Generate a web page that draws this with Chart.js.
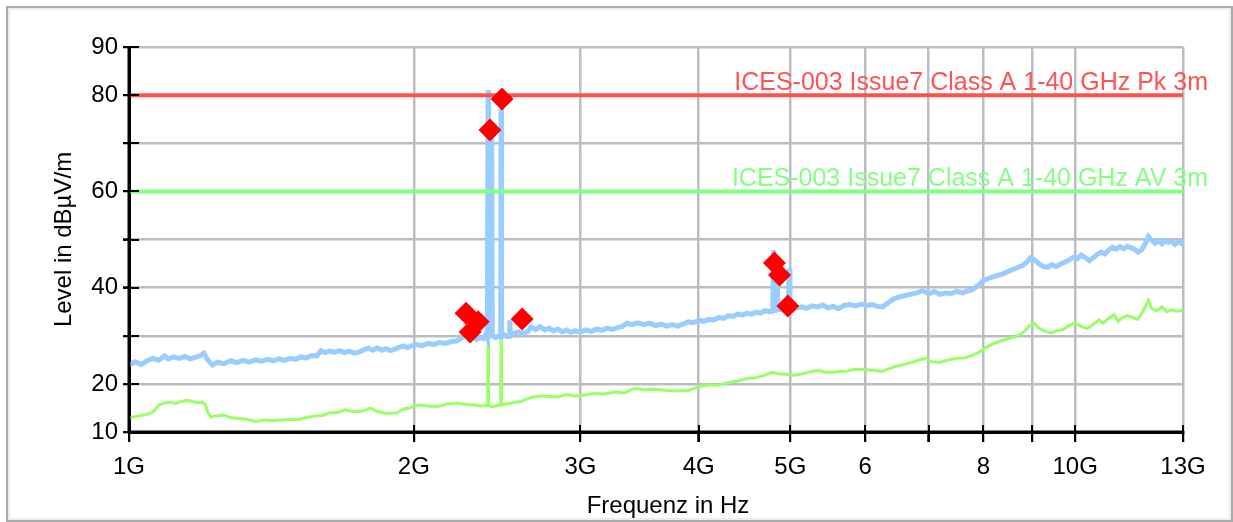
<!DOCTYPE html>
<html>
<head>
<meta charset="utf-8">
<script src="https://cdn.jsdelivr.net/npm/chart.js@4.4.1/dist/chart.umd.min.js"></script>
<style>
  html, body { margin: 0; padding: 0; background: #fff; }
  #wrap { position: relative; width: 1233px; height: 522px; overflow: hidden; }
  #frame { position: absolute; left: 6px; top: 6px; width: 1223px; height: 512px;
           border: 2px solid #ababab; box-shadow: inset 0 0 0 2px #ededed; }
  #chart { position: absolute; left: 0; top: 0; }
</style>
</head>
<body>
<div id="wrap">
  <div id="frame"></div>
  <canvas id="chart" width="1233" height="522"></canvas>
</div>
<script>
// Frequenz in GHz, Pegel in dBµV/m

// Peak-Messkurve (blau)
const peakFreq = [
  1.00, 1.015, 1.03, 1.045, 1.06, 1.075, 1.09, 1.10, 1.115, 1.13, 1.145, 1.16, 1.175, 1.19, 1.20, 1.21, 1.225,
  1.24, 1.26, 1.28, 1.30, 1.32, 1.34, 1.36, 1.38, 1.40, 1.42, 1.44, 1.46, 1.48, 1.50, 1.52, 1.54, 1.56, 1.58,
  1.595, 1.61, 1.63, 1.65, 1.67, 1.69, 1.71, 1.73, 1.75, 1.77, 1.79, 1.81, 1.83, 1.85, 1.87, 1.89, 1.91, 1.93,
  1.95, 1.97, 1.99, 2.01, 2.04, 2.07, 2.10, 2.13, 2.16, 2.19, 2.22, 2.25, 2.27, 2.29, 2.31, 2.33, 2.35, 2.37,
  2.385, 2.392, 2.394, 2.396, 2.399, 2.405, 2.412, 2.415, 2.417, 2.421, 2.44, 2.46, 2.471, 2.473, 2.476, 2.49,
  2.51, 2.523, 2.526, 2.53, 2.55, 2.58, 2.61, 2.64, 2.66, 2.69, 2.72, 2.75, 2.78, 2.81, 2.84, 2.87, 2.90, 2.93,
  2.96, 3.00, 3.04, 3.08, 3.12, 3.16, 3.20, 3.24, 3.28, 3.32, 3.36, 3.40, 3.45, 3.50, 3.55, 3.60, 3.65, 3.70,
  3.75, 3.80, 3.85, 3.90, 3.95, 4.00, 4.05, 4.10, 4.15, 4.20, 4.25, 4.30, 4.35, 4.40, 4.45, 4.50, 4.55, 4.60,
  4.65, 4.70, 4.75, 4.79, 4.80, 4.81, 4.83, 4.84, 4.85, 4.90, 4.95, 4.975, 4.985, 4.995, 5.02, 5.08, 5.14, 5.20,
  5.27, 5.34, 5.41, 5.48, 5.55, 5.62, 5.70, 5.78, 5.86, 5.94, 6.02, 6.10, 6.18, 6.26, 6.34, 6.42, 6.50, 6.60,
  6.70, 6.80, 6.90, 7.00, 7.10, 7.20, 7.30, 7.40, 7.50, 7.60, 7.70, 7.80, 7.90, 8.00, 8.10, 8.20, 8.30, 8.40,
  8.50, 8.60, 8.70, 8.80, 8.90, 8.97, 9.05, 9.15, 9.25, 9.35, 9.45, 9.55, 9.65, 9.75, 9.85, 9.95, 10.05, 10.15,
  10.25, 10.35, 10.45, 10.55, 10.65, 10.75, 10.85, 10.95, 11.05, 11.15, 11.25, 11.35, 11.45, 11.55, 11.65,
  11.75, 11.85, 11.95, 12.05, 12.15, 12.25, 12.35, 12.45, 12.55, 12.65, 12.75, 12.85, 13.00
];
const peakLevel = [
  23.9, 24.6, 24.0, 24.8, 25.3, 24.9, 25.8, 25.2, 25.6, 25.3, 25.7, 25.2, 25.5, 25.9, 26.4, 25.1, 23.9,
  24.5, 24.2, 24.8, 24.4, 24.9, 24.5, 25.0, 24.7, 25.1, 24.8, 25.2, 24.9, 25.3, 25.1, 25.6, 25.4, 25.9, 25.8,
  26.9, 26.5, 26.8, 26.6, 26.9, 26.5, 26.8, 26.4, 26.6, 27.1, 27.4, 27.0, 27.5, 27.0, 27.3, 26.9, 27.2, 27.6,
  27.9, 27.5, 27.9, 28.2, 27.9, 28.4, 28.2, 28.6, 28.4, 28.8, 28.9, 29.6, 30.5, 29.4, 29.8, 29.2, 29.6, 29.4,
  30.5, 29.8, 29.8, 81.0, 29.9, 33.0, 30.2, 30.0, 72.8, 30.0, 29.6, 30.0, 29.8, 79.2, 29.9, 30.2,
  29.8, 29.9, 33.2, 30.3, 30.4, 30.8, 30.5, 30.9, 31.8, 31.3, 31.9, 31.2, 31.6, 31.0, 31.4, 30.8, 31.2, 30.7,
  31.0, 30.8, 31.2, 30.9, 31.4, 31.1, 31.6, 31.3, 31.7, 31.9, 32.6, 32.3, 32.7, 32.3, 32.6, 32.1, 32.4, 32.0,
  32.3, 32.0, 32.4, 32.9, 32.7, 33.2, 33.0, 33.4, 33.3, 33.8, 33.6, 34.2, 34.0, 34.5, 34.3, 34.7, 34.5, 34.9,
  34.7, 35.2, 35.0, 35.3, 47.8, 35.3, 35.5, 44.6, 35.4, 35.6, 35.4, 35.6, 44.0, 35.6, 35.3, 35.8, 36.0, 35.7,
  36.2, 36.0, 36.4, 35.8, 36.1, 35.6, 36.3, 36.5, 36.2, 36.6, 36.3, 36.5, 36.1, 36.0, 36.8, 37.6, 38.0, 38.3,
  38.6, 38.9, 39.4, 38.7, 39.2, 38.6, 38.9, 38.8, 39.2, 38.9, 39.3, 39.6, 40.5, 41.5, 41.9, 42.3, 42.6, 42.9,
  43.4, 43.8, 44.2, 44.6, 45.4, 46.2, 45.8, 45.0, 44.4, 44.2, 44.8, 44.4, 44.9, 45.3, 45.7, 46.3, 46.0, 46.8,
  46.2, 45.6, 46.2, 46.9, 47.4, 47.0, 47.8, 48.4, 48.0, 48.5, 48.1, 48.6, 48.3, 48.0, 47.4,
  47.8, 49.0, 50.6, 49.8, 49.2, 49.7, 49.1, 49.8, 49.4, 49.6, 49.0, 49.5, 49.0
];

// Average-Messkurve (grün)
const avgFreq = [
  1.00, 1.02, 1.04, 1.055, 1.065, 1.075, 1.09, 1.105, 1.12, 1.135, 1.15, 1.165, 1.18, 1.195, 1.205, 1.212,
  1.22, 1.24, 1.26, 1.28, 1.30, 1.33, 1.36, 1.39, 1.42, 1.45, 1.48, 1.51, 1.54, 1.57, 1.60, 1.63, 1.66, 1.69,
  1.72, 1.75, 1.78, 1.80, 1.83, 1.86, 1.89, 1.92, 1.95, 1.98, 2.02, 2.07, 2.12, 2.17, 2.22, 2.27, 2.32, 2.36,
  2.394, 2.396, 2.399, 2.42, 2.45, 2.471, 2.473, 2.476, 2.50, 2.55, 2.60, 2.66, 2.72, 2.78, 2.84, 2.90, 2.96,
  3.03, 3.10, 3.18, 3.26, 3.34, 3.42, 3.50, 3.60, 3.70, 3.80, 3.90, 4.00, 4.10, 4.20, 4.30, 4.40, 4.50, 4.60,
  4.70, 4.78, 4.86, 4.95, 5.05, 5.15, 5.25, 5.35, 5.45, 5.55, 5.65, 5.75, 5.85, 5.95, 6.05, 6.15, 6.25, 6.35,
  6.45, 6.55, 6.70, 6.85, 6.95, 7.05, 7.20, 7.35, 7.50, 7.65, 7.80, 7.95, 8.05, 8.20, 8.35, 8.50, 8.65, 8.80,
  8.95, 9.05, 9.15, 9.30, 9.45, 9.55, 9.70, 9.85, 10.0, 10.15, 10.30, 10.45, 10.60, 10.70, 10.85, 11.00, 11.10,
  11.20, 11.35, 11.50, 11.65, 11.80, 11.95, 12.05, 12.20, 12.35, 12.50, 12.65, 12.80, 13.00
];
const avgLevel = [
  12.9, 13.3, 13.6, 13.9, 14.6, 15.6, 16.0, 16.2, 15.9, 16.3, 16.6, 16.4, 16.1, 16.2, 15.6, 14.0,
  13.1, 13.4, 13.5, 13.0, 12.8, 12.7, 12.2, 12.5, 12.4, 12.5, 12.6, 12.6, 13.0, 13.3, 13.4, 14.0, 14.0, 14.6,
  14.3, 14.2, 14.6, 14.9, 14.3, 13.9, 13.9, 14.0, 14.8, 15.0, 15.6, 15.4, 15.3, 15.8, 16.0, 15.7, 15.6, 15.4,
  15.5, 29.0, 15.5, 15.2, 15.5, 15.6, 29.0, 15.6, 15.8, 16.1, 16.4, 17.2, 17.5, 17.4, 17.3, 17.8, 17.5,
  17.7, 18.0, 17.9, 18.3, 18.1, 19.1, 18.8, 18.9, 18.6, 18.5, 18.6, 19.4, 19.8, 19.7, 20.3, 20.6, 21.1, 21.3,
  21.8, 22.4, 22.1, 22.0, 21.8, 22.1, 22.5, 22.8, 22.4, 22.4, 22.6, 22.7, 23.0, 23.0, 22.9, 22.8, 22.6, 23.1,
  23.6, 23.9, 24.4, 25.0, 25.3, 24.6, 24.5, 25.0, 25.3, 25.4, 26.0, 26.8, 27.6, 28.4, 28.9, 29.4, 29.8, 30.6,
  32.1, 32.6, 31.6, 30.9, 30.6, 31.0, 31.3, 32.1, 32.7, 31.9, 31.5, 32.4, 33.3, 32.6, 33.6, 34.4, 33.0,
  33.7, 34.2, 33.8, 33.4, 35.2, 37.4, 35.6, 35.2, 36.0, 35.0, 35.4, 35.1, 35.3
];

// Messpunkte (rote Rauten)
const markFreq = [2.271, 2.339, 2.294, 2.407, 2.479, 2.603, 4.81, 4.87, 4.97];
const markLevel = [34.7, 32.9, 30.8, 72.75, 79.2, 33.5, 45.1, 42.6, 36.2];

// Grenzwerte
const limitPk = 80;
const limitAv = 60;
const limitPkName = 'ICES-003 Issue7 Class A 1-40 GHz Pk 3m';
const limitAvName = 'ICES-003 Issue7 Class A 1-40 GHz AV 3m';

// Achsen
const xTickVals = [1, 2, 3, 4, 5, 6, 7, 8, 9, 10, 13];
const xTickLabels = ['1G', '2G', '3G', '4G', '5G', '6', '', '8', '', '10G', '13G'];
const yGridVals = [10, 20, 30, 40, 50, 60, 70, 80, 90];
const yLabelVals = [10, 20, 40, 60, 80, 90];
const xMin = 1, xMax = 13, yMin = 10, yMax = 90;

const FONT = "'Liberation Sans', Arial, sans-serif";
const GRID = 'rgb(186,190,196)';
const toXY = (fs, ls) => fs.map((f, i) => ({ x: f, y: ls[i] }));

// Achsen, Ticks innen, Titel und Grenzwert-Beschriftung
const decorPlugin = {
    id: 'decor',
    afterDraw(chart) {
        const { ctx, chartArea } = chart;
        const xs = chart.scales.x, ys = chart.scales.y;
        ctx.save();
        ctx.strokeStyle = '#000';
        ctx.lineWidth = 3;
        ctx.beginPath();
        ctx.moveTo(chartArea.left, chartArea.top);
        ctx.lineTo(chartArea.left, chartArea.bottom);
        ctx.lineTo(chartArea.right, chartArea.bottom);
        ctx.stroke();
        ctx.lineWidth = 2;
        ctx.beginPath();
        xTickVals.forEach(v => {
            const px = Math.round(xs.getPixelForValue(v));
            ctx.moveTo(px, chartArea.bottom + 10);
            ctx.lineTo(px, chartArea.bottom - 7);
        });
        yGridVals.forEach(v => {
            const py = Math.round(ys.getPixelForValue(v));
            ctx.moveTo(chartArea.left - 6, py);
            ctx.lineTo(chartArea.left + 10, py);
        });
        ctx.stroke();

        ctx.font = '25px ' + FONT;
        ctx.textAlign = 'right';
        ctx.textBaseline = 'alphabetic';
        ctx.fillStyle = '#ff5252';
        ctx.fillText(limitPkName, chartArea.right + 25, ys.getPixelForValue(limitPk) - 5);
        ctx.fillStyle = '#84ff84';
        ctx.fillText(limitAvName, chartArea.right + 25, ys.getPixelForValue(limitAv) - 5);

        ctx.font = '24px ' + FONT;
        ctx.fillStyle = '#000';
        ctx.textAlign = 'center';
        ctx.textBaseline = 'middle';
        ctx.fillText('Frequenz in Hz', (chartArea.left + chartArea.right) / 2 + 12, 506);
        ctx.translate(64, (chartArea.top + chartArea.bottom) / 2);
        ctx.rotate(-Math.PI / 2);
        ctx.fillText('Level in dBµV/m', 0, 0);
        ctx.restore();
    }
};

new Chart(document.getElementById('chart').getContext('2d'), {
    type: 'line',
    data: {
        datasets: [
            {
                label: 'Marker',
                data: toXY(markFreq, markLevel),
                showLine: false,
                pointStyle: 'rectRot',
                pointRadius: 11.5,
                pointBackgroundColor: '#ff0000',
                pointBorderWidth: 0,
                order: 0
            },
            {
                label: limitPkName,
                data: [{ x: xMin, y: limitPk }, { x: xMax, y: limitPk }],
                borderColor: '#ff5050',
                borderWidth: 4,
                pointRadius: 0,
                order: 1
            },
            {
                label: limitAvName,
                data: [{ x: xMin, y: limitAv }, { x: xMax, y: limitAv }],
                borderColor: '#80ff80',
                borderWidth: 4,
                pointRadius: 0,
                order: 1
            },
            {
                label: 'Peak',
                data: toXY(peakFreq, peakLevel),
                borderColor: '#99ccff',
                borderWidth: 5,
                pointRadius: 0,
                tension: 0,
                order: 2
            },
            {
                label: 'Average',
                data: toXY(avgFreq, avgLevel),
                borderColor: '#99ff66',
                borderWidth: 3,
                pointRadius: 0,
                tension: 0,
                order: 3
            }
        ]
    },
    options: {
        responsive: false,
        animation: false,
        layout: { padding: { top: 47, right: 50, left: 0, bottom: 0 } },
        plugins: { legend: { display: false }, tooltip: { enabled: false } },
        scales: {
            x: {
                type: 'logarithmic',
                min: xMin,
                max: xMax,
                afterBuildTicks: (scale) => { scale.ticks = xTickVals.map(v => ({ value: v })); },
                afterFit: (scale) => { scale.height = 90; },
                ticks: {
                    autoSkip: false,
                    maxRotation: 0,
                    minRotation: 0,
                    padding: 11,
                    color: '#000',
                    font: { family: FONT, size: 24 },
                    callback: (v, i) => xTickLabels[i]
                },
                grid: { color: GRID, lineWidth: 2.5, tickColor: '#000', tickLength: 10, tickWidth: 2 },
                border: { color: '#000', width: 3 }
            },
            y: {
                min: yMin,
                max: yMax,
                afterFit: (scale) => { scale.width = 129; },
                ticks: {
                    stepSize: 10,
                    padding: 5,
                    color: '#000',
                    font: { family: FONT, size: 24 },
                    callback: (v) => yLabelVals.includes(v) ? String(v) : ''
                },
                grid: { color: GRID, lineWidth: 2.5, tickColor: '#000', tickLength: 6, tickWidth: 2 },
                border: { color: '#000', width: 3 }
            }
        }
    },
    plugins: [decorPlugin]
});
</script>
</body>
</html>
